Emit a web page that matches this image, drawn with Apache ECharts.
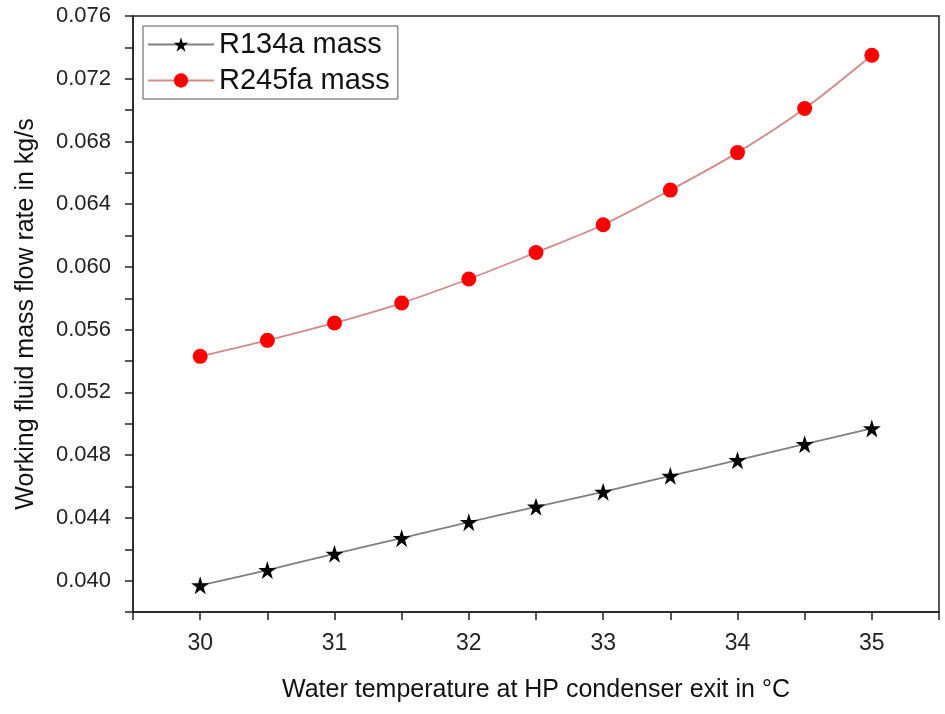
<!DOCTYPE html>
<html>
<head>
<meta charset="utf-8">
<script src="https://cdn.jsdelivr.net/npm/echarts@6/dist/echarts.min.js"></script>
<style>
html,body{margin:0;padding:0;background:#fff;}
#chart{width:945px;height:714px;}
</style>
</head>
<body>
<div id="chart"></div>
<script>
const temps = [30, 30.5, 31, 31.5, 32, 32.5, 33, 33.5, 34, 34.5, 35];
const r134aMass = [0.03970, 0.04067, 0.04171, 0.04271, 0.04373, 0.04471, 0.04566, 0.04668, 0.04768, 0.04870, 0.04970];
const r245faMass = [0.05430, 0.05532, 0.05643, 0.05770, 0.05923, 0.06092, 0.06269, 0.06490, 0.06729, 0.07010, 0.07350];
const seriesNames = ['R134a mass', 'R245fa mass'];
const xTitle = 'Water temperature at HP condenser exit in \u00B0C';
const yTitle = 'Working fluid mass flow rate in kg/s';

const starPath = 'path://M50,0 L61.2,34.5 L97.6,34.5 L68.2,55.9 L79.4,90.5 L50,69.1 L20.6,90.5 L31.8,55.9 L2.4,34.5 L38.8,34.5 Z';
const font = 'Liberation Sans, Arial, sans-serif';

const chart = echarts.init(document.getElementById('chart'), null, {renderer: 'canvas'});
chart.setOption({
  backgroundColor: '#fff',
  animation: false,
  textStyle: {fontFamily: font},
  grid: {left: 133, right: 6, top: 16, bottom: 102, show: true, borderColor: '#222', borderWidth: 1.5},
  legend: {
    left: 143, top: 26,
    orient: 'vertical',
    padding: [4, 8, 4, 4],
    itemGap: 7,
    itemWidth: 66,
    itemHeight: 18,
    borderColor: '#555',
    borderWidth: 1,
    textStyle: {fontSize: 29, color: '#111', fontFamily: font},
    data: seriesNames
  },
  xAxis: {
    type: 'value',
    min: 29.5, max: 35.5, interval: 0.5,
    name: xTitle,
    nameLocation: 'middle',
    nameGap: 66,
    nameTextStyle: {fontSize: 25, color: '#111', fontFamily: font},
    axisLine: {show: true, onZero: false, lineStyle: {color: '#222', width: 1.5}},
    axisTick: {show: true, inside: false, length: 8, lineStyle: {color: '#222', width: 1.5}},
    axisLabel: {
      fontSize: 23, color: '#222', margin: 20, fontFamily: font,
      formatter: v => (Math.abs(v - Math.round(v)) < 1e-9 ? String(Math.round(v)) : '')
    },
    splitLine: {show: false}
  },
  yAxis: {
    type: 'value',
    min: 0.038, max: 0.076, interval: 0.002,
    name: yTitle,
    nameLocation: 'middle',
    nameGap: 94,
    nameTextStyle: {fontSize: 25, color: '#111', fontFamily: font},
    axisLine: {show: true, onZero: false, lineStyle: {color: '#222', width: 1.5}},
    axisTick: {show: true, inside: false, length: 8, lineStyle: {color: '#222', width: 1.5}},
    axisLabel: {
      fontSize: 22, color: '#222', margin: 22, fontFamily: font,
      formatter: v => (Math.round(v * 1000) % 4 === 0 ? v.toFixed(3) : '')
    },
    splitLine: {show: false}
  },
  series: [
    {
      name: seriesNames[0],
      type: 'line',
      data: temps.map((t, i) => [t, r134aMass[i]]),
      smooth: 0.3,
      symbol: starPath,
      symbolSize: 18,
      itemStyle: {color: '#000'},
      lineStyle: {color: '#808080', width: 1.8}
    },
    {
      name: seriesNames[1],
      type: 'line',
      data: temps.map((t, i) => [t, r245faMass[i]]),
      smooth: 0.3,
      symbol: 'circle',
      symbolSize: 15,
      itemStyle: {color: '#ff0000'},
      lineStyle: {color: '#d08a8a', width: 1.8}
    }
  ]
});
</script>
</body>
</html>
